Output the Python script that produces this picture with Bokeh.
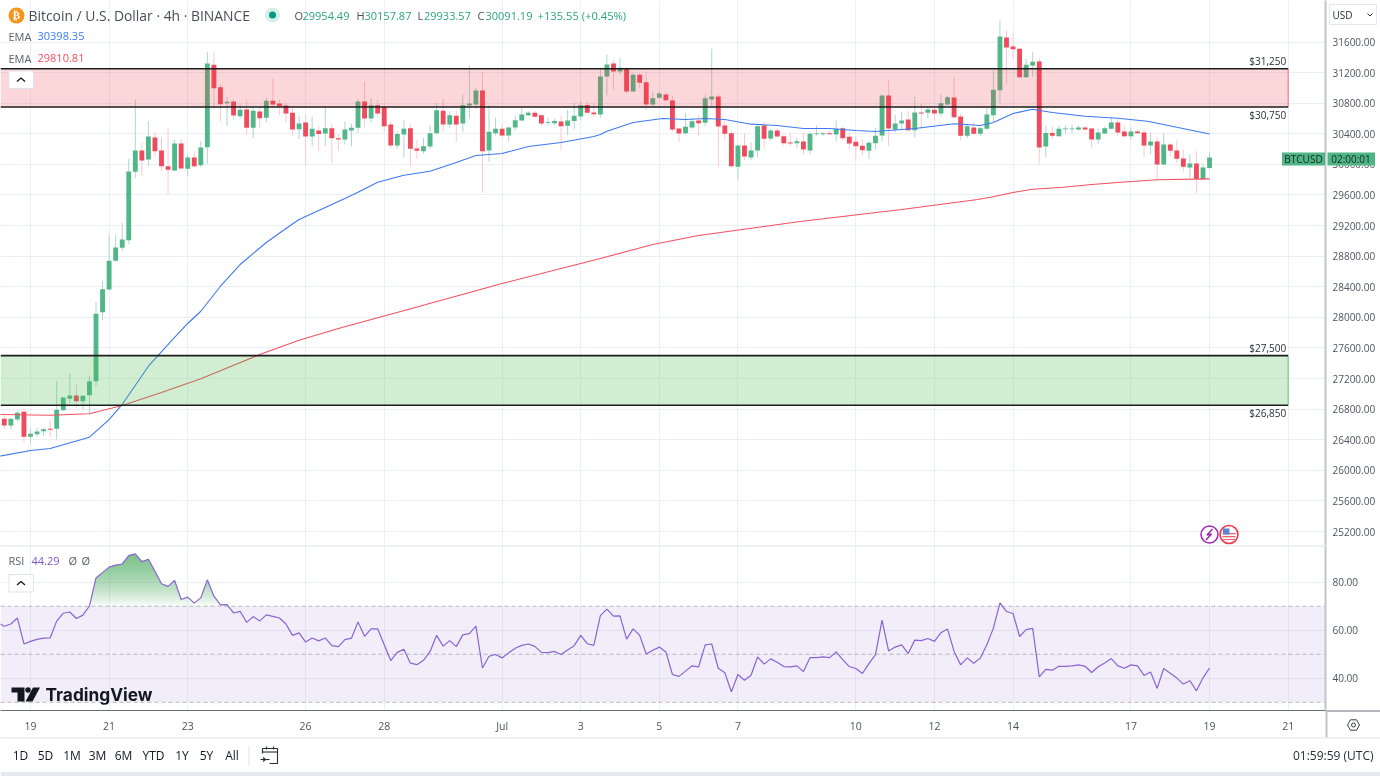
import numpy as np
from bokeh.plotting import figure
from bokeh.layouts import column
from bokeh.models import (Range1d, FixedTicker, NumeralTickFormatter)
from bokeh.core.properties import value
from bokeh.embed import file_html
from bokeh.resources import INLINE

FONT = "Open Sans"

# ---- data ----
bars = list(range(-4, 181))
opens = [26673,26586,26665,26765,26438,26473,26512,26543,26543,26787,
 26935,26979,26904,26983,27166,28068,28364,28739,28909,29009,
 29903,30182,30064,30352,30182,29977,29920,30273,29942,30090,
 29990,30225,31302,31010,30801,30822,30631,30718,30478,30692,
 30609,30831,30796,30770,30674,30461,30548,30365,30443,30404,
 30473,30343,30325,30443,30478,30822,30600,30774,30752,30521,
 30247,30391,30473,30208,30173,30234,30408,30700,30521,30635,
 30534,30770,30783,30966,30181,30408,30465,30378,30482,30574,
 30643,30674,30643,30543,30539,30561,30504,30569,30626,30778,
 30678,30652,31149,31319,31215,31254,30953,31171,31075,30783,
 30870,30914,30835,30469,30408,30483,30574,30543,30849,30888,
 30509,30408,29968,30247,30090,30182,30509,30339,30443,30369,
 30286,30278,30299,30182,30395,30395,30408,30391,30474,30361,
 30295,30243,30177,30278,30378,30901,30456,30535,30587,30448,
 30679,30674,30714,30666,30783,30875,30626,30374,30483,30400,
 30465,30644,30971,31659,31542,31511,31141,31293,31345,30234,
 30409,30369,30461,30461,30457,30483,30470,30326,30404,30465,
 30548,30430,30369,30430,30417,30247,30300,30000,30260,30182,
 30077,29960,30012,29807,29954.49]
closes = [26586,26673,26752,26438,26477,26508,26538,26530,26791,26952,
 26979,26904,26974,27166,28046,28369,28739,28913,29018,29907,
 30182,30051,30365,30173,29977,29929,30273,29946,30090,29977,
 30221,31319,30997,30788,30818,30639,30713,30478,30700,30604,
 30831,30783,30761,30666,30456,30535,30365,30465,30399,30473,
 30343,30325,30456,30478,30822,30600,30774,30665,30500,30247,
 30399,30465,30203,30177,30238,30408,30709,30521,30643,30521,
 30774,30796,30966,30173,30426,30465,30378,30482,30578,30652,
 30674,30622,30534,30553,30569,30500,30574,30635,30774,30674,
 30657,31149,31306,31215,31263,30953,31171,31066,30783,30866,
 30927,30840,30456,30404,30491,30565,30539,30866,30888,30495,
 30400,29977,30247,30103,30182,30500,30334,30443,30365,30278,
 30273,30304,30195,30400,30404,30408,30395,30465,30343,30273,
 30238,30186,30282,30374,30901,30469,30535,30574,30448,30679,
 30666,30718,30666,30801,30879,30618,30374,30500,30400,30474,
 30653,30975,31672,31529,31507,31141,31302,31341,30221,30409,
 30374,30465,30470,30470,30483,30457,30326,30417,30474,30548,
 30417,30369,30430,30408,30247,30300,30000,30260,30178,30073,
 29968,30012,29812,29960,30091.19]
highs = [26708,26673,26774,26809,26543,26556,26556,26665,27170,26952,
 27266,27122,26979,27240,28203,28473,29070,29070,29236,30073,
 30849,30282,30565,30413,30347,30478,30326,30326,30130,30173,
 30304,31472,31480,31045,30883,30849,30783,30849,30761,30740,
 30870,31123,30849,30805,30740,30640,30652,30626,30500,30739,
 30521,30399,30561,30534,30857,31084,30870,30840,30805,30565,
 30434,30574,30521,30325,30347,30508,30805,30861,30696,30704,
 30914,31293,31001,31206,30770,30609,30534,30491,30630,30739,
 30696,30696,30652,30609,30596,30639,30709,30805,30826,30826,
 30805,31263,31437,31372,31393,31263,31197,31197,31219,30957,
 30957,30944,30901,30478,30666,30609,30639,30905,31511,30927,
 30574,30434,30260,30400,30291,30522,30557,30465,30478,30391,
 30413,30347,30413,30421,30509,30421,30448,30574,30491,30413,
 30369,30326,30304,30478,30901,31097,30652,30687,30696,30884,
 30796,30740,30740,30914,30901,31145,30661,30531,30557,30487,
 30740,31228,31882,31751,31707,31524,31380,31468,31385,30504,
 30500,30509,30513,30522,30509,30500,30478,30470,30496,30618,
 30600,30500,30487,30456,30465,30413,30356,30413,30282,30313,
 30195,30130,30173,30012,30157.87]
lows = [26543,26534,26639,26368,26347,26447,26447,26438,26403,26774,
 26874,26808,26795,26743,27100,27963,28356,28730,28870,28957,
 29820,29855,29977,30086,29912,29607,29912,29946,29846,29968,
 29964,30012,30718,30565,30500,30596,30596,30391,30347,30478,
 30552,30740,30644,30552,30369,30334,29990,30238,30173,30238,
 30012,30181,30260,30238,30412,30478,30552,30630,30434,30216,
 30203,30094,29968,30073,30138,30203,30391,30426,30478,30295,
 30426,30600,30726,29628,30033,30378,30360,30303,30443,30565,
 30630,30609,30500,30508,30508,30181,30382,30456,30578,30652,
 30617,30609,30905,30971,31175,30927,30953,30992,30705,30761,
 30849,30818,30426,30291,30391,30465,30369,30500,30761,29968,
 30326,29955,29803,30055,30055,30099,30203,30313,30347,30252,
 30238,30217,30130,30138,30378,30369,30387,30304,30313,30195,
 30073,30121,30073,30195,30304,30238,30421,30456,30435,30356,
 30470,30600,30574,30631,30775,30600,30313,30339,30391,30369,
 30456,30557,30805,31045,31385,31132,31132,31145,30008,30099,
 30339,30365,30400,30409,30443,30443,30217,30269,30391,30456,
 30369,30356,30326,30400,30095,30130,29803,30000,30108,30021,
 29903,29825,29620,29803,29933.57]

ema_fast_bar = [-5,0,3,9,12,14,18,22,24,26,29,32,36,39,41,48,50,53,57,61,65,68,72,76,81,86,87,88,92,96.5,100,103,106,110,114,118,122,126,129,131,135,141,145,147,150,153,156,161,166,170.5,175,180]
ema_fast = [26181,26259,26285,26433,26664,26861,27361,27737,27920,28080,28407,28691,28979,29162,29280,29554,29636,29767,29859,29911,30025,30116,30142,30234,30286,30365,30391,30434,30548,30600,30587,30600,30587,30526,30509,30469,30469,30443,30430,30443,30469,30531,30508,30548,30666,30722,30678,30630,30604,30565,30486,30398.35]
ema_slow_bar = [-5,3,9,14,20,26,35,41,47,56.5,72,87,95,102,117.5,133,144.6,146.6,150,153,157.7,162,166.5,172,180]
ema_slow = [26730,26721,26739,26848,27018,27197,27514,27701,27854,28077,28443,28770,28953,29070,29253,29410,29541,29571,29633,29676,29702,29737,29767,29799,29810.81]

rsi_bar = list(range(-5, 181))
rsi = [63.2,61.7,62.6,65.1,54.3,55.4,56.2,56.7,56.8,63.8,
 67.1,67.6,64.9,66.3,70.1,81.8,84.0,86.3,87.1,87.6,
 91.1,91.8,88.6,89.6,84.6,79.4,78.3,80.7,72.8,73.8,
 71.3,73.5,81.0,74.2,70.6,70.7,67.2,67.9,63.3,65.7,
 63.9,66.4,65.8,65.1,62.6,57.9,58.9,55.1,56.8,55.6,
 56.8,53.6,53.2,56.1,56.7,63.5,57.5,60.6,60.6,54.0,
 47.4,50.8,52.1,46.3,45.7,47.5,51.2,57.9,53.4,55.7,
 53.2,58.1,58.6,61.7,44.3,49.2,49.9,48.5,50.6,52.5,
 53.7,54.3,53.3,50.8,50.7,51.2,49.9,51.8,53.6,57.9,
 54.4,53.7,66.1,68.8,65.9,66.0,56.3,60.6,57.9,50.1,
 51.7,53.0,51.0,41.6,40.8,43.0,45.2,44.8,53.9,54.3,
 44.2,42.3,34.4,41.6,39.2,41.3,48.9,45.9,48.1,46.7,
 44.9,44.8,45.2,42.8,48.6,48.6,48.9,48.6,51.0,47.8,
 44.9,44.1,42.0,46.1,49.9,64.2,51.4,53.0,53.9,50.3,
 55.9,55.7,56.6,55.4,59.0,60.5,51.2,45.6,48.5,46.3,
 48.4,54.0,60.9,71.4,67.8,67.0,57.4,60.3,60.8,40.6,
 43.7,43.4,45.0,45.0,45.2,45.6,45.0,42.4,44.8,46.4,
 48.2,45.2,44.2,45.6,45.2,41.2,42.6,35.8,44.1,42.1,
 40.1,37.6,39.0,34.8,40.2,44.29]

price_ticks = list(range(25200, 31601, 400))
rsi_ticks = [40, 60, 80]
rsi_levels = [70, 50, 30]
date_bars = [0, 12, 24, 42, 54, 72, 84, 96, 108, 126, 138, 150, 168, 180, 192]
date_labels = ["19", "21", "23", "26", "28", "Jul", "3", "5", "7", "10", "12", "14", "17", "19", "21"]
zone_sell = (30750, 31250)
zone_buy = (26850, 27500)
zone_end_bar = 192
range_buttons = ["1D", "5D", "1M", "3M", "6M", "YTD", "1Y", "5Y", "All"]

UP, DOWN = "#52b788", "#ef4a5d"
UP_W, DOWN_W = "#aed6d2", "#f9c9cf"
GRID = "#ecf0f5"
TXT = "#50535e"
TAG = "#4fb586"

XR = (-4.58, 197.7)
FIXED = {"position": "fixed", "left": "0px", "top": "0px"}


def base(height, yr, bottom):
    f = figure(width=1380, height=height, x_range=Range1d(*XR), y_range=Range1d(*yr),
               output_backend="svg", toolbar_location=None, y_axis_location="right",
               min_border_left=0, min_border_top=0, min_border_right=55, min_border_bottom=bottom,
               outline_line_color=None, background_fill_color="white", border_fill_color="white")
    f.xaxis.ticker = FixedTicker(ticks=date_bars)
    f.xgrid.grid_line_color = GRID
    f.ygrid.grid_line_color = GRID
    for ax in f.yaxis + f.xaxis:
        ax.major_tick_line_color = None
        ax.minor_tick_line_color = None
        ax.major_tick_out = 0
        ax.major_tick_in = 0
        ax.minor_tick_out = 0
        ax.minor_tick_in = 0
        ax.major_label_text_font = FONT
        ax.major_label_text_font_size = "10px"
        ax.major_label_text_color = TXT
    f.yaxis.axis_line_color = "#c2c4ca"
    f.yaxis.axis_line_width = 2
    f.yaxis.major_label_standoff = 7
    f.yaxis.formatter = NumeralTickFormatter(format="0.00")
    return f


def px_text(f, x, y, s, color=TXT, size=11, align="left", style="normal", font=FONT):
    f.text(x=[x], y=[y], text=[s], text_color=color, text_font_size=f"{size}px",
           text_align=align, text_baseline="middle", text_font=value(font), text_font_style=style)


# ---------- price pane ----------
PANE_TOP, PANE_BOT = 32143, 25017
main = base(545, (PANE_BOT, PANE_TOP), 0)
main.xaxis.visible = False
main.yaxis.ticker = FixedTicker(ticks=price_ticks)

idx_up = [i for i in range(len(bars)) if closes[i] >= opens[i]]
idx_dn = [i for i in range(len(bars)) if closes[i] < opens[i]]
for idx, col, wick in ((idx_up, UP, UP_W), (idx_dn, DOWN, DOWN_W)):
    xs = [bars[i] for i in idx]
    main.segment(xs, [lows[i] for i in idx], xs, [highs[i] for i in idx], line_color=wick, line_width=1)
    main.vbar(x=xs, width=0.74, top=[max(opens[i], closes[i]) for i in idx],
              bottom=[min(opens[i], closes[i]) for i in idx], fill_color=col, line_color=None)

main.line(ema_fast_bar, ema_fast, line_color="#3d79f2", line_width=1.1)
main.line(ema_slow_bar, ema_slow, line_color="#f2505f", line_width=1.1)

main.quad(left=[XR[0]], right=[zone_end_bar], bottom=[zone_sell[0]], top=[zone_sell[1]],
          fill_color="#f23645", fill_alpha=0.2, line_color=None)
main.quad(left=[XR[0]], right=[zone_end_bar], bottom=[zone_buy[0]], top=[zone_buy[1]],
          fill_color="#4cbe50", fill_alpha=0.26, line_color=None)
for lo, hi, side in ((*zone_sell, "#e2707c"), (*zone_buy, "#6cbf78")):
    main.segment([zone_end_bar], [lo], [zone_end_bar], [hi], line_color=side, line_width=1)
    main.segment([XR[0], XR[0]], [lo, hi], [zone_end_bar, zone_end_bar], [lo, hi], line_color="#1c1c1c", line_width=1.6)

for price, above in ((31250, True), (30750, False), (27500, True), (26850, False)):
    main.text(x=[zone_end_bar - 0.3], y=[price], text=[f"${price:,}"], text_color="#2a2e39",
              text_font_size="10px", text_font=value(FONT), text_align="right",
              text_baseline="bottom" if above else "top", y_offset=-1 if above else 1)

# ---------- RSI pane ----------
rsi_pane = base(192, (26.6, 95.3), 27)
rsi_pane.yaxis.ticker = FixedTicker(ticks=rsi_ticks)
rsi_pane.xaxis.major_label_overrides = dict(zip(date_bars, date_labels))
rsi_pane.xaxis.axis_line_color = "#6a6d78"
rsi_pane.xaxis.major_label_standoff = 8
rsi_pane.xaxis.major_label_text_font_size = "10.5px"

rsi_pane.quad(left=[XR[0]], right=[XR[1]], bottom=[rsi_levels[2]], top=[rsi_levels[0]],
              fill_color="#7e57c2", fill_alpha=0.1, line_color=None)
for lev in rsi_levels:
    rsi_pane.segment([XR[0]], [lev], [XR[1]], [lev], line_color="#8f8f9a", line_alpha=0.6, line_width=1, line_dash="4 3")

# green gradient over the 70 level: stacked translucent layers clipped by the RSI line
fx = np.arange(rsi_bar[0], rsi_bar[-1] + 0.01, 0.05)
fy = np.interp(fx, rsi_bar, rsi)
for a in np.arange(70, 92, 1.0):
    rsi_pane.varea(x=fx, y1=np.full_like(fx, a), y2=np.maximum(fy, a), fill_color="#43a857", fill_alpha=0.048)

rsi_pane.line(rsi_bar, rsi, line_color="#8a63d2", line_width=1.2)

# ---------- chrome overlay (page coordinates) ----------
ov = figure(width=1380, height=776, x_range=Range1d(0, 1380), y_range=Range1d(776, 0), output_backend="svg",
            toolbar_location=None, x_axis_type=None, y_axis_type=None, min_border=0,
            outline_line_color=None, background_fill_color=None, border_fill_color=None, styles=FIXED)
ov.xgrid.visible = False
ov.ygrid.visible = False

# header
ov.scatter(x=[16], y=[15], size=16, fill_color="#f7931a", line_color=None)
px_text(ov, 16, 15, "₿", "white", 11, "center", "bold", "DejaVu Sans")
px_text(ov, 28, 15, "Bitcoin / U.S. Dollar · 4h · BINANCE", "#4a4d57", 13.9)
ov.scatter(x=[272], y=[14.5], size=15, fill_color="#d5efea", line_color=None)
ov.scatter(x=[272], y=[14.5], size=7, fill_color="#089981", line_color=None)
HG = "#2aa57f"
for lx, l, vx, v in ((294, "O", 302, "29954.49"), (356, "H", 364, "30157.87"), (417, "L", 423.5, "29933.57"), (477, "C", 485, "30091.19")):
    px_text(ov, lx, 15, l, "#4a4d57", 11)
    px_text(ov, vx, 15, v, HG, 11)
px_text(ov, 537, 15, "+135.55 (+0.45%)", HG, 11.2)
px_text(ov, 8, 35.5, "EMA", "#5d606b", 11)
px_text(ov, 37, 35.5, "30398.35", "#3d79f2", 11)
px_text(ov, 8, 57.5, "EMA", "#5d606b", 11)
px_text(ov, 37, 57.5, "29810.81", "#f2505f", 11)


def button(y0):
    ov.quad(left=[8.5], right=[33], top=[y0], bottom=[y0 + 17.5], fill_color="white", line_color="#e0e3eb")
    ov.line(x=[16.5, 20.5, 24.5], y=[y0 + 10.5, y0 + 7, y0 + 10.5], line_color="#131722", line_width=1.3)


button(70.5)
button(574)

# economic event icons
ov.scatter(x=[1209], y=[534], size=17, fill_color="white", line_color="#9c27b0", line_width=1.5)
ov.line(x=[1212, 1206.5, 1211, 1205.5], y=[528.5, 534.5, 533.5, 539.5], line_color="#9c27b0", line_width=1.5)
ov.scatter(x=[1228.5], y=[534], size=18, fill_color="white", line_color="#f23645", line_width=1.6)
ov.quad(left=[1222, 1222, 1222], right=[1235, 1235, 1235], top=[532.5, 535.5, 538.5], bottom=[533.8, 536.8, 539.5],
        fill_color="#f2606d", line_color=None)
ov.quad(left=[1222.5], right=[1229], top=[528], bottom=[534], fill_color="#5b84d6", line_color=None)

# last price tag and currency box
ov.quad(left=[1281.5, 1327], right=[1324.5, 1374.5], top=[152, 152], bottom=[165, 165], fill_color=TAG, line_color=None)
px_text(ov, 1303, 158.5, "BTCUSD", "#17291f", 10, "center")
px_text(ov, 1350.5, 158.5, "02:00:01", "#17291f", 10, "center")
ov.quad(left=[1329], right=[1376], top=[4], bottom=[24], fill_color="white", line_color="#e4e7ee")
px_text(ov, 1332, 14.5, "USD", "#2a2e39", 10)
ov.line(x=[1367, 1369.5, 1372], y=[13, 15.5, 13], line_color="#2a2e39", line_width=1)

# RSI legend
px_text(ov, 8, 560, "RSI", "#5d606b", 11)
px_text(ov, 31, 560, "44.29", "#7e57c2", 11)
px_text(ov, 68, 560, "Ø", "#5d606b", 11)
px_text(ov, 81, 560, "Ø", "#5d606b", 11)

# pane separators
ov.segment([0], [545.5], [1325], [545.5], line_color="#e0e3eb", line_width=1)
ov.segment([1325], [710.5], [1380], [710.5], line_color="#6a6d78", line_width=1)
ov.segment([1326], [710], [1326], [737], line_color="#c2c4ca", line_width=2)

# TradingView logo
ov.patch([11, 24, 24, 17, 17, 11], [687, 687, 701, 701, 692, 692], fill_color="#131722", line_color=None)
ov.patch([32.5, 39.5, 32, 25], [687, 687, 701, 701], fill_color="#131722", line_color=None)
ov.scatter(x=[27.5], y=[689.5], size=5.5, fill_color="#131722", line_color=None)
px_text(ov, 45, 693.5, "TradingView", "#131722", 17.3, "left", "bold", "Inter")

# settings icon
ov.scatter(x=[1353], y=[724.5], marker="hex", size=12, fill_color="white", line_color="#3a3d48", line_width=1)
ov.scatter(x=[1353], y=[724.5], size=4, fill_color="white", line_color="#3a3d48", line_width=1)

# bottom strip
ov.quad(left=[0], right=[1380], top=[737.5], bottom=[771.5], fill_color="white", line_color=None)
ov.segment([0], [737.5], [1380], [737.5], line_color="#e0e3eb", line_width=1)
ov.quad(left=[0], right=[1380], top=[771.5], bottom=[776], fill_color="#e6e9f1", line_color=None)
for bx, lab in zip([20, 45, 71.5, 97, 123, 153, 181.5, 206, 231.5], range_buttons):
    px_text(ov, bx, 755, lab, "#131722", 12, "center")
ov.segment([248.5], [745], [248.5], [765], line_color="#e0e3eb", line_width=1)
ov.line(x=[262, 262, 277, 277, 269], y=[753, 748, 748, 763, 763], line_color="#2a2e39", line_width=1.1)
ov.segment([262, 266, 273, 260, 265, 265], [751.5, 746, 746, 759, 759, 759], [277, 266, 273, 269, 262.5, 262.5], [751.5, 749, 749, 759, 757, 761],
           line_color="#2a2e39", line_width=1.1)
px_text(ov, 1373, 755, "01:59:59 (UTC)", "#2a2e39", 12, "right")

page = column(main, rsi_pane, spacing=0, styles=FIXED)
open("out.html", "w").write(file_html([page, ov], INLINE))
